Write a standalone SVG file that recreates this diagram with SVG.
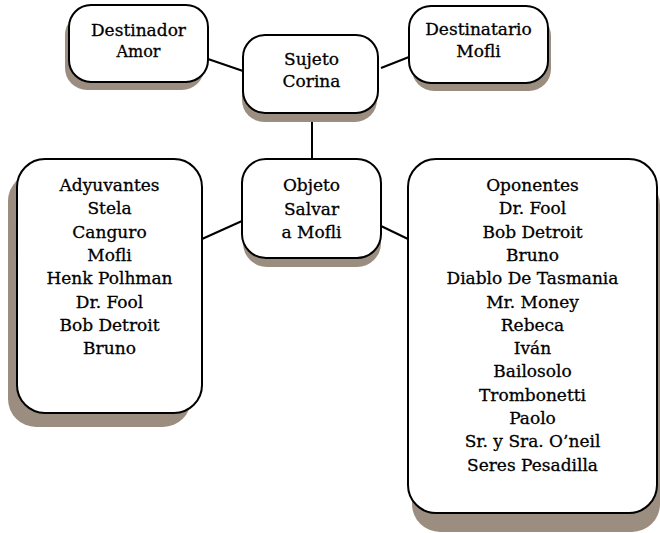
<svg xmlns="http://www.w3.org/2000/svg" width="660" height="533" viewBox="0 0 660 533">
<style>
.box{fill:#fff;stroke:#000;stroke-width:2}
.sh{fill:#9b8e81;stroke:none}
.t{font-family:"DejaVu Serif","Liberation Serif",serif;font-size:17px;fill:#000;stroke:#000;stroke-width:0.3;text-anchor:middle}
.c{stroke:#000;stroke-width:2;fill:none}
</style>
<rect width="660" height="533" fill="#fff"/>
<g id="connectors">
<line class="c" x1="208" y1="59" x2="243" y2="71"/>
<line class="c" x1="381" y1="68" x2="409" y2="57"/>
<line class="c" x1="312" y1="113" x2="312" y2="159"/>
<line class="c" x1="242" y1="221" x2="202" y2="239"/>
<line class="c" x1="381" y1="226" x2="408" y2="239"/>
</g>
<g id="destinador">
<rect class="sh" x="65" y="13" width="139" height="77" rx="22"/>
<rect class="box" x="69" y="5" width="139" height="77" rx="22"/>
<text class="t" x="138.5" y="36">Destinador</text>
<text class="t" x="138.5" y="57" style="font-size:16px">Amor</text>
</g>
<g id="sujeto">
<rect class="sh" x="242" y="44" width="135" height="78" rx="22"/>
<rect class="box" x="243" y="35" width="135" height="78" rx="22"/>
<text class="t" x="311.5" y="65">Sujeto</text>
<text class="t" x="311.5" y="87">Corina</text>
</g>
<g id="destinatario">
<rect class="sh" x="412" y="14" width="139" height="77" rx="22"/>
<rect class="box" x="409" y="6" width="139" height="77" rx="22"/>
<text class="t" x="478.5" y="35">Destinatario</text>
<text class="t" x="478.5" y="57">Mofli</text>
</g>
<g id="objeto">
<rect class="sh" x="243" y="168" width="138" height="99" rx="24"/>
<rect class="box" x="242" y="159" width="139" height="99" rx="24"/>
<text class="t" x="311.5" y="191">Objeto</text>
<text class="t" x="311.5" y="215">Salvar</text>
<text class="t" x="311.5" y="238">a Mofli</text>
</g>
<g id="adyuvantes">
<rect class="sh" x="8" y="173" width="183" height="254" rx="28"/>
<rect class="box" x="17" y="159" width="185" height="254" rx="28"/>
<text class="t" x="109.5" y="191">Adyuvantes</text>
<text class="t" x="109.5" y="214.3">Stela</text>
<text class="t" x="109.5" y="237.6">Canguro</text>
<text class="t" x="109.5" y="260.9">Mofli</text>
<text class="t" x="109.5" y="284.2">Henk Polhman</text>
<text class="t" x="109.5" y="307.5">Dr. Fool</text>
<text class="t" x="109.5" y="330.8">Bob Detroit</text>
<text class="t" x="109.5" y="354.1">Bruno</text>
</g>
<g id="oponentes">
<rect class="sh" x="412" y="177" width="248" height="355" rx="28"/>
<rect class="box" x="408" y="159" width="249" height="354" rx="28"/>
<text class="t" x="532.5" y="191">Oponentes</text>
<text class="t" x="532.5" y="214.3">Dr. Fool</text>
<text class="t" x="532.5" y="237.6">Bob Detroit</text>
<text class="t" x="532.5" y="260.9">Bruno</text>
<text class="t" x="532.5" y="284.2">Diablo De Tasmania</text>
<text class="t" x="532.5" y="307.5">Mr. Money</text>
<text class="t" x="532.5" y="330.8">Rebeca</text>
<text class="t" x="532.5" y="354.1">Iván</text>
<text class="t" x="532.5" y="377.4">Bailosolo</text>
<text class="t" x="532.5" y="400.7">Trombonetti</text>
<text class="t" x="532.5" y="424">Paolo</text>
<text class="t" x="532.5" y="447.3">Sr. y Sra. O’neil</text>
<text class="t" x="532.5" y="470.6">Seres Pesadilla</text>
</g>
</svg>
